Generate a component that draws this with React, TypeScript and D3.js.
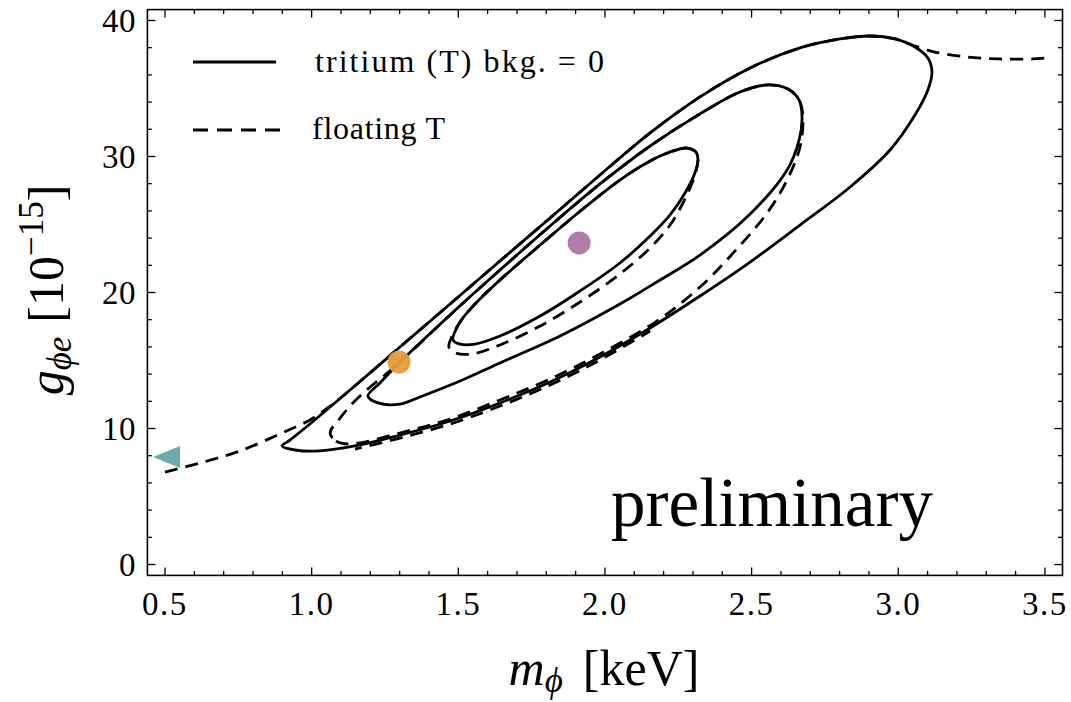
import React from "react";
import * as d3 from "d3";

// ---- data ----
const xTickValues = [0.5, 1.0, 1.5, 2.0, 2.5, 3.0, 3.5];
const xTickLabels = ["0.5", "1.0", "1.5", "2.0", "2.5", "3.0", "3.5"];
const yTickValues = [0, 10, 20, 30, 40];
const yTickLabels = ["0", "10", "20", "30", "40"];

// tritium (T) bkg. = 0 : three closed contours (solid)
const solidOuter: [number, number][] = [
  [0.899, 8.71], [0.943, 8.42], [1.028, 8.35], [1.165, 8.79], [1.301, 9.52], [1.472, 10.55],
  [1.642, 11.88], [1.813, 13.42], [1.983, 15.26], [2.154, 17.39], [2.324, 19.74], [2.495, 22.24],
  [2.665, 24.96], [2.836, 27.76], [2.972, 30.48], [3.057, 33.05], [3.101, 34.89], [3.115, 36.21],
  [3.101, 37.24], [3.057, 38.05], [2.989, 38.64], [2.904, 38.86], [2.801, 38.64], [2.665, 37.98],
  [2.495, 36.51], [2.324, 34.38], [2.154, 31.73], [1.983, 28.64], [1.813, 25.48], [1.642, 22.32],
  [1.472, 19.15], [1.301, 15.99], [1.131, 12.83], [0.994, 10.33], [0.926, 9.15],
];
const solidMiddle: [number, number][] = [
  [1.192, 12.39], [1.226, 11.88], [1.301, 11.8], [1.369, 12.32], [1.506, 13.49], [1.642, 14.82],
  [1.847, 16.8], [2.051, 19.15], [2.188, 20.92], [2.324, 22.75], [2.495, 25.77], [2.621, 29.01],
  [2.662, 31.21], [2.672, 32.9], [2.662, 34.15], [2.624, 34.96], [2.556, 35.26], [2.46, 34.74],
  [2.324, 33.13], [2.154, 30.77], [1.983, 27.98], [1.813, 24.89], [1.642, 21.65], [1.472, 18.35],
  [1.298, 14.82], [1.233, 13.35],
];
const solidInner: [number, number][] = [
  [1.482, 16.51], [1.506, 16.21], [1.557, 16.21], [1.642, 16.8], [1.779, 18.27], [1.915, 20.11],
  [2.051, 22.17], [2.154, 24.15], [2.222, 25.7], [2.273, 27.32], [2.304, 28.64], [2.317, 29.74],
  [2.31, 30.33], [2.28, 30.62], [2.222, 30.33], [2.154, 29.67], [2.051, 28.27], [1.912, 25.92],
  [1.779, 23.49], [1.642, 20.92], [1.557, 19.15], [1.506, 17.83],
];

// floating T : dashed contours
const dashedOuter: [number, number][] = [
  [0.5, 6.8], [0.619, 7.46], [0.756, 8.35], [0.899, 9.67], [0.994, 10.63], [1.063, 11.65],
  [1.131, 12.83], [1.301, 15.99], [1.472, 19.15], [1.642, 22.32], [1.813, 25.48], [1.983, 28.64],
  [2.154, 31.73], [2.324, 34.38], [2.495, 36.51], [2.665, 37.98], [2.801, 38.64], [2.904, 38.86],
  [2.989, 38.64], [3.047, 38.2], [3.125, 37.68], [3.234, 37.32], [3.347, 37.17], [3.459, 37.17],
  [3.5, 37.24],
];
const dashedOuterLower: [number, number][] = [
  [1.148, 8.49], [1.301, 9.3], [1.472, 10.33], [1.642, 11.65], [1.813, 13.2], [1.983, 15.04],
  [2.154, 17.17],
];
const dashedMiddle: [number, number][] = [
  [1.063, 9.67], [1.083, 9.08], [1.131, 8.86], [1.301, 9.67], [1.472, 10.7], [1.642, 12.1],
  [1.813, 13.64], [1.983, 15.48], [2.177, 17.9], [2.324, 20.4], [2.437, 22.9], [2.553, 25.85],
  [2.621, 28.27], [2.665, 30.7], [2.675, 32.9], [2.662, 34.15], [2.624, 34.96], [2.556, 35.26],
  [2.46, 34.74], [2.324, 33.13], [2.154, 30.77], [1.983, 27.98], [1.813, 24.89], [1.642, 21.65],
  [1.472, 18.35], [1.298, 14.82], [1.25, 13.93], [1.199, 13.05], [1.144, 11.95], [1.097, 10.77],
];
const dashedInner: [number, number][] = [
  [1.468, 15.99], [1.492, 15.55], [1.547, 15.48], [1.642, 16.14], [1.779, 17.54], [1.915, 19.3],
  [2.051, 21.36], [2.154, 23.27], [2.222, 24.96], [2.266, 26.58], [2.297, 28.05], [2.314, 29.23],
  [2.317, 29.74], [2.31, 30.33], [2.28, 30.62], [2.222, 30.33], [2.154, 29.67], [2.051, 28.27],
  [1.912, 25.92], [1.779, 23.49], [1.642, 20.92], [1.557, 19.15], [1.506, 17.83], [1.479, 16.8],
];

const purplePoint: [number, number] = [1.912, 23.64];
const orangePoint: [number, number] = [1.298, 14.89];
const tealPoint: [number, number] = [0.507, 7.9];

const legendLabels = ["tritium (T) bkg. = 0", "floating T"];

const W = 1071;
const H = 702;
const M = { left: 147.4, right: 1062.5, top: 9.6, bottom: 575.4 };
const FONT = "'Liberation Serif', 'Times New Roman', serif";

export default function App() {
  const x = d3.scaleLinear().domain([0.44, 3.56]).range([M.left, M.right]);
  const y = d3.scaleLinear().domain([-0.8, 40.8]).range([M.bottom, M.top]);

  const closed = d3
    .line<[number, number]>()
    .x((d) => x(d[0]))
    .y((d) => y(d[1]))
    .curve(d3.curveCatmullRomClosed.alpha(0.5));
  const open = d3
    .line<[number, number]>()
    .x((d) => x(d[0]))
    .y((d) => y(d[1]))
    .curve(d3.curveCatmullRom.alpha(0.5));

  const xMinor = d3
    .range(5, 36)
    .map((v) => v / 10)
    .filter((v) => Math.abs(v * 2 - Math.round(v * 2)) > 1e-6);
  const yMinor = d3.range(0, 41, 2).filter((v) => v % 10 !== 0);

  const lw = 2.8;
  const dash = "13,8";

  const tx = x(tealPoint[0]);
  const ty = y(tealPoint[1]);

  return (
    <svg width={W} height={H} style={{ position: "absolute", left: 0, top: 0, background: "#fff" }}>
      <rect width={W} height={H} fill="#fff" />
      <defs>
        <clipPath id="plotclip">
          <rect x={M.left} y={M.top} width={M.right - M.left} height={M.bottom - M.top} />
        </clipPath>
      </defs>

      <g clipPath="url(#plotclip)" fill="none" stroke="#000" strokeWidth={lw}>
        <path d={closed(dashedMiddle) || ""} strokeDasharray={dash} />
        <path d={closed(dashedInner) || ""} strokeDasharray={dash} />
        <path d={open(dashedOuterLower) || ""} strokeDasharray={dash} strokeDashoffset={6} />
        <path d={open(dashedOuter) || ""} strokeDasharray={dash} />
        <path d={closed(solidOuter) || ""} />
        <path d={closed(solidMiddle) || ""} />
        <path d={closed(solidInner) || ""} />
      </g>

      {/* markers */}
      <circle cx={x(purplePoint[0])} cy={y(purplePoint[1])} r={11.5} fill="#b07ca9" />
      <circle cx={x(orangePoint[0])} cy={y(orangePoint[1])} r={11.5} fill="#e89c3c" fillOpacity={0.95} />
      <path d={`M${tx - 14},${ty} L${tx + 13},${ty - 11} L${tx + 13},${ty + 11} Z`} fill="#6aabab" />

      {/* frame */}
      <rect
        x={M.left}
        y={M.top}
        width={M.right - M.left}
        height={M.bottom - M.top}
        fill="none"
        stroke="#000"
        strokeWidth={1.6}
      />

      {/* ticks */}
      <g stroke="#000" strokeWidth={1.3}>
        {xTickValues.map((v) => (
          <g key={"xt" + v}>
            <line x1={x(v)} x2={x(v)} y1={M.bottom} y2={M.bottom - 8} />
            <line x1={x(v)} x2={x(v)} y1={M.top} y2={M.top + 8} />
          </g>
        ))}
        {xMinor.map((v) => (
          <g key={"xm" + v}>
            <line x1={x(v)} x2={x(v)} y1={M.bottom} y2={M.bottom - 4.5} />
            <line x1={x(v)} x2={x(v)} y1={M.top} y2={M.top + 4.5} />
          </g>
        ))}
        {yTickValues.map((v) => (
          <g key={"yt" + v}>
            <line x1={M.left} x2={M.left + 8} y1={y(v)} y2={y(v)} />
            <line x1={M.right} x2={M.right - 8} y1={y(v)} y2={y(v)} />
          </g>
        ))}
        {yMinor.map((v) => (
          <g key={"ym" + v}>
            <line x1={M.left} x2={M.left + 4.5} y1={y(v)} y2={y(v)} />
            <line x1={M.right} x2={M.right - 4.5} y1={y(v)} y2={y(v)} />
          </g>
        ))}
      </g>

      {/* tick labels */}
      <g fontFamily={FONT} fontSize={33} fill="#000">
        {xTickValues.map((v, i) => (
          <text key={"xl" + v} x={x(v)} y={615} textAnchor="middle" letterSpacing={1.5}>
            {xTickLabels[i]}
          </text>
        ))}
        {yTickValues.map((v, i) => (
          <text key={"yl" + v} x={136} y={y(v) + 11.5} textAnchor="end" letterSpacing={0.5}>
            {yTickLabels[i]}
          </text>
        ))}
      </g>

      {/* axis labels */}
      <text x={604} y={685} textAnchor="middle" fontFamily={FONT} fontSize={50} fill="#000">
        <tspan fontStyle="italic">m</tspan>
        <tspan fontStyle="italic" fontSize={35} dy={7}>ϕ</tspan>
        <tspan dy={-7} dx={20}>[keV]</tspan>
      </text>
      <text
        transform={`translate(63, 290) rotate(-90)`}
        textAnchor="middle"
        fontFamily={FONT}
        fontSize={50}
        fill="#000"
      >
        <tspan fontStyle="italic">g</tspan>
        <tspan fontStyle="italic" fontSize={35} dy={8}>ϕe</tspan>
        <tspan dy={-8} dx={14}>[10</tspan>
        <tspan fontSize={35} dy={-20}>−15</tspan>
        <tspan dy={20}>]</tspan>
      </text>

      {/* legend */}
      <line x1={193} x2={276} y1={62} y2={62} stroke="#000" strokeWidth={lw} />
      <line x1={193} x2={281} y1={130} y2={130} stroke="#000" strokeWidth={lw} strokeDasharray="15,9" />
      <text x={315} y={72} fontFamily={FONT} fontSize={32} fill="#000" textLength={289} lengthAdjust="spacing">
        {legendLabels[0]}
      </text>
      <text x={312} y={139} fontFamily={FONT} fontSize={32} fill="#000" textLength={133} lengthAdjust="spacing">
        {legendLabels[1]}
      </text>

      {/* preliminary */}
      <text x={611} y={526} fontFamily={FONT} fontSize={69} fill="#000" textLength={322} lengthAdjust="spacingAndGlyphs">
        preliminary
      </text>
    </svg>
  );
}
